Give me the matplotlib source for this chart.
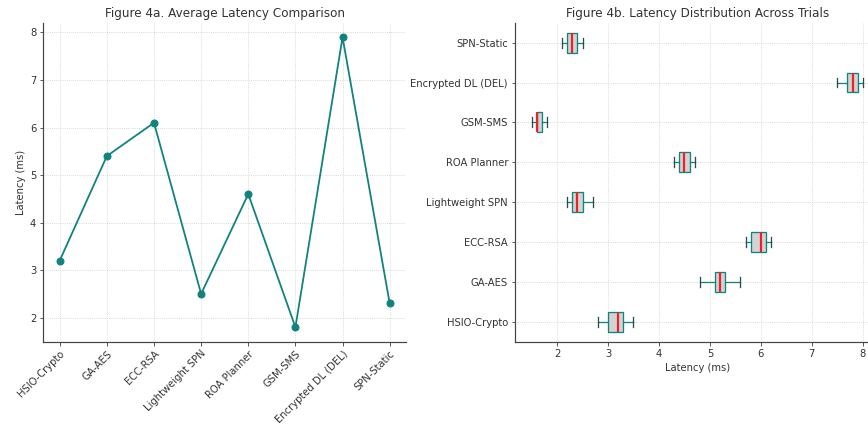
import matplotlib
matplotlib.use("Agg")
import matplotlib.pyplot as plt

methods = ["HSIO-Crypto", "GA-AES", "ECC-RSA", "Lightweight SPN",
           "ROA Planner", "GSM-SMS", "Encrypted DL (DEL)", "SPN-Static"]
avg_latency = [3.2, 5.4, 6.1, 2.5, 4.6, 1.8, 7.9, 2.3]

# latency per trial for each method (ms)
hsio_trials = [2.8, 3.0, 3.2, 3.3, 3.5]
ga_aes_trials = [4.8, 5.1, 5.2, 5.3, 5.6]
ecc_rsa_trials = [5.7, 5.8, 6.0, 6.1, 6.2]
lw_spn_trials = [2.2, 2.3, 2.4, 2.5, 2.7]
roa_trials = [4.3, 4.4, 4.5, 4.6, 4.7]
gsm_trials = [1.5, 1.6, 1.6, 1.7, 1.8]
del_trials = [7.5, 7.7, 7.8, 7.9, 8.0]
spn_static_trials = [2.1, 2.2, 2.3, 2.4, 2.5]
trials = [hsio_trials, ga_aes_trials, ecc_rsa_trials, lw_spn_trials,
          roa_trials, gsm_trials, del_trials, spn_static_trials]

W, H = 868, 428
fig = plt.figure(figsize=(W / 72, H / 72), dpi=72)
ax1 = fig.add_axes([43.2 / W, 86.3 / H, 363 / W, 319 / H])
ax2 = fig.add_axes([515 / W, 86.3 / H, 364.3 / W, 319 / H])

txt = "#333333"
teal = "#12827c"
grid_kw = dict(color="#c8c8c8", linestyle=":", linewidth=0.8)

# line chart of averages
ax1.plot(methods, avg_latency, marker="o", color=teal, linewidth=1.8, markersize=7)
ax1.set_title("Figure 4a. Average Latency Comparison", color=txt)
ax1.set_ylabel("Latency (ms)", color=txt)
ax1.tick_params(axis="x", rotation=45)
for lbl in ax1.get_xticklabels():
    lbl.set_ha("right")
    lbl.set_rotation_mode("anchor")
ax1.grid(True, **grid_kw)

# horizontal boxplots of trial latencies
ax2.boxplot(trials, vert=False, whis=(0, 100), patch_artist=True, widths=0.5,
            boxprops=dict(facecolor="#d3d3d3", edgecolor=teal, linewidth=1.3),
            medianprops=dict(color="#e8242a", linewidth=2.2),
            whiskerprops=dict(color=teal, linewidth=1.3),
            capprops=dict(color="#2b4a4a", linewidth=1.3),
            showfliers=False)
ax2.set_yticks(range(1, len(methods) + 1))
ax2.set_yticklabels(methods)
ax2.set_title("Figure 4b. Latency Distribution Across Trials", color=txt)
ax2.set_xlabel("Latency (ms)", color=txt)
ax2.grid(True, **grid_kw)

for ax in (ax1, ax2):
    ax.spines["top"].set_visible(False)
    ax.spines["right"].set_visible(False)
    ax.spines["left"].set_color("#444444")
    ax.spines["bottom"].set_color("#444444")
    ax.spines["left"].set_linewidth(1.2)
    ax.spines["bottom"].set_linewidth(1.2)
    ax.tick_params(colors=txt, labelcolor=txt)
    ax.set_axisbelow(True)

fig.savefig("out.png", dpi=72)
